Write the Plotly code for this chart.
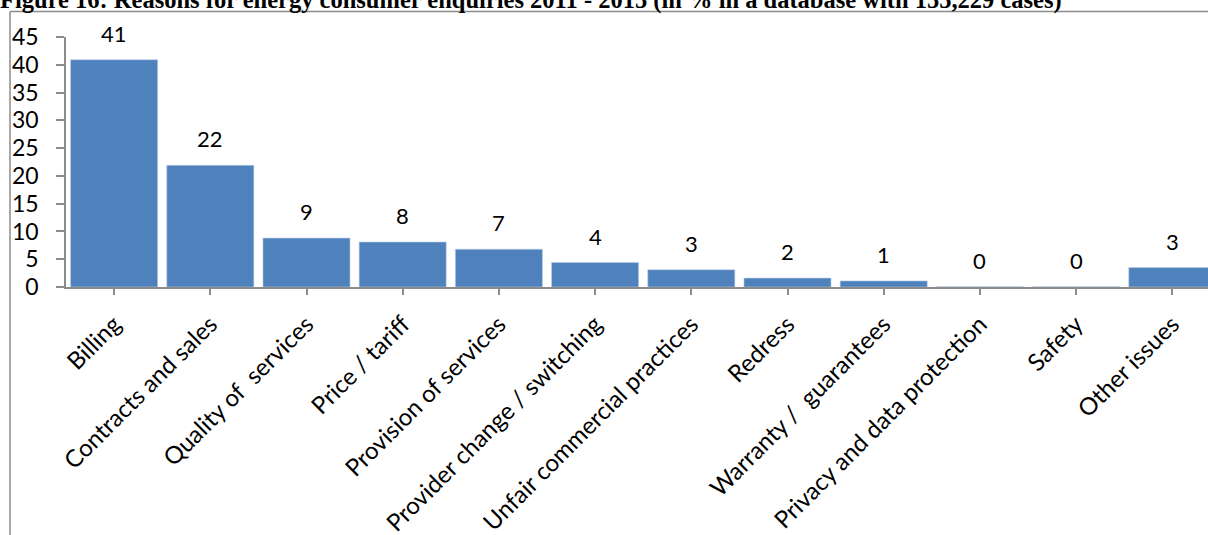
import plotly.graph_objects as go

categories = ["Billing", "Contracts and sales", "Quality of  services", "Price / tariff",
              "Provision of services", "Provider change / switching",
              "Unfair commercial practices", "Redress", "Warranty /  guarantees",
              "Privacy and data protection", "Safety", "Other issues"]
values = [40.9, 21.9, 8.8, 8.1, 6.8, 4.4, 3.1, 1.6, 1.1, 0.05, 0.05, 3.5]
value_labels = ["41", "22", "9", "8", "7", "4", "3", "2", "1", "0", "0", "3"]
y_ticks = [0, 5, 10, 15, 20, 25, 30, 35, 40, 45]
title_text = "Figure 16: Reasons for energy consumer enquiries 2011 - 2015 (in % in a database with 155,229 cases)"

W, H = 1208, 535
L, T, B = 66, 37, 287
plot_w = W - L
plot_h = B - T
cat_w = 96.2
x_hi = -0.5 + plot_w / cat_w

FONT = "Lato"
fig = go.Figure()
fig.add_trace(go.Bar(
    x=list(range(len(categories))), y=values,
    marker=dict(color="#4F81BD", line=dict(color="#B9CDE5", width=0.6)),
    width=0.905,
    hoverinfo="skip",
))

for i, (v, lab) in enumerate(zip(values, value_labels)):
    fig.add_annotation(x=i, y=v, text=lab, showarrow=False, xref="x", yref="y",
                       yanchor="bottom", yshift=11,
                       font=dict(family=FONT, size=22, color="#000000"))

def px_x(p):
    return (p - L) / plot_w

def px_y(p):
    return (B - p) / plot_h

line_col = "#8C8C8C"
fig.add_shape(type="line", xref="paper", yref="paper", layer="above",
              x0=px_x(10), x1=px_x(W + 5), y0=px_y(11.5), y1=px_y(11.5),
              line=dict(color=line_col, width=1.5))
fig.add_shape(type="line", xref="paper", yref="paper", layer="above",
              x0=px_x(10), x1=px_x(10), y0=px_y(11.5), y1=px_y(H + 5),
              line=dict(color=line_col, width=1.5))

fig.update_layout(
    width=W, height=H,
    margin=dict(l=L, r=0, t=T, b=H - B, pad=0, autoexpand=False),
    plot_bgcolor="white", paper_bgcolor="white",
    showlegend=False,
    title=dict(text="<b>" + title_text + "</b>", x=0, xanchor="left", xref="container",
               y=1 - 8 / H, yref="container", yanchor="bottom",
               font=dict(family="Liberation Serif", size=24.5, color="#000000"),
               pad=dict(l=0, t=0, b=0), automargin=False),
    xaxis=dict(
        range=[-0.5, x_hi],
        automargin=False,
        tickmode="array",
        tickvals=list(range(len(categories))),
        ticktext=categories,
        tickangle=-45,
        showline=True, linecolor=line_col, linewidth=1.5,
        ticks="outside", ticklen=6, tickcolor=line_col, tickwidth=1.5,
        ticklabelstandoff=6,
        showgrid=False, zeroline=False,
        tickfont=dict(family=FONT, size=24, color="#000000"),
    ),
    yaxis=dict(
        range=[0, 45],
        automargin=False,
        tickmode="array", tickvals=y_ticks,
        showline=True, linecolor=line_col, linewidth=1.5,
        ticks="outside", ticklen=8, tickcolor=line_col, tickwidth=1.5,
        ticklabelstandoff=13,
        showgrid=False, zeroline=False,
        tickfont=dict(family=FONT, size=23, color="#000000"),
    ),
)

fig.write_html("out.html", config={"displayModeBar": False},
               post_script="document.body.style.margin='0';")
